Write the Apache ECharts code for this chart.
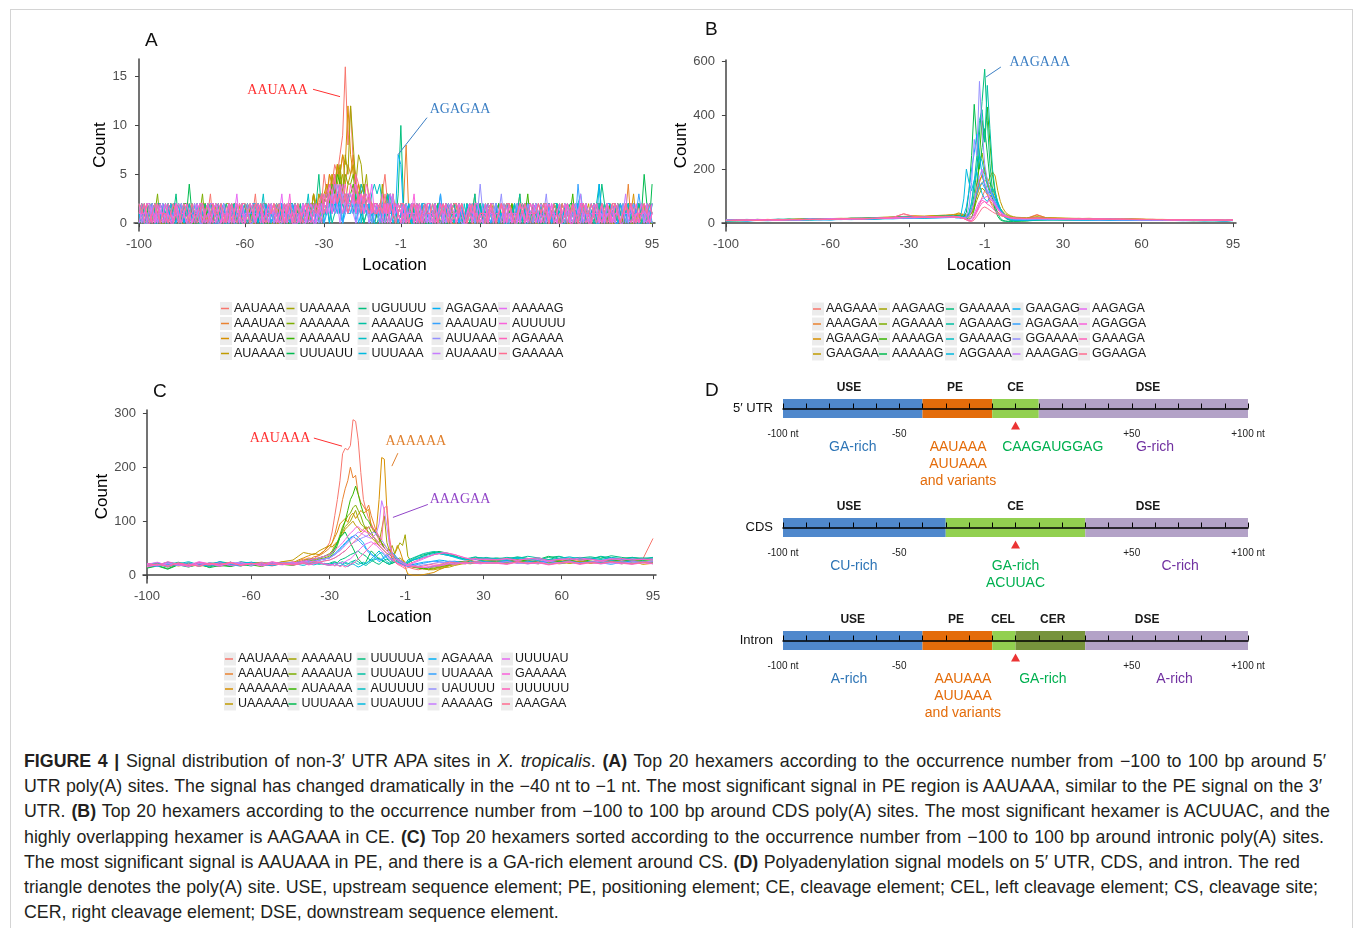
<!DOCTYPE html>
<html>
<head>
<meta charset="utf-8">
<script src="https://cdn.jsdelivr.net/npm/echarts@6/dist/echarts.min.js"></script>
<style>
  html, body { margin: 0; padding: 0; background: #fff; }
  #wrap { position: relative; width: 1355px; height: 928px; overflow: hidden; }
  #chart { position: absolute; left: 0; top: 0; width: 1355px; height: 740px; }
  #frame { position: absolute; left: 10px; top: 9px; width: 1341px; height: 940px; border: 1px solid #d4d4d4; }
  #caption { position: absolute; left: 24px; top: 749px; font-family: 'Liberation Sans', Arial, sans-serif;
    font-size: 17.8px; line-height: 25.2px; color: #231f20; white-space: nowrap; }
  #caption div { text-align: left; text-align-last: justify; }
  #caption div.last { text-align-last: left; }
</style>
</head>
<body>
<div id="wrap">
  <div id="frame"></div>
  <div id="chart"></div>
  <div id="caption">
    <div style="width:1302px"><b>FIGURE 4 |</b> Signal distribution of non-3′ UTR APA sites in <i>X. tropicalis</i>. <b>(A)</b> Top 20 hexamers according to the occurrence number from −100 to 100 bp around 5′</div>
    <div style="width:1298px">UTR poly(A) sites. The signal has changed dramatically in the −40 nt to −1 nt. The most significant signal in PE region is AAUAAA, similar to the PE signal on the 3′</div>
    <div style="width:1306px">UTR. <b>(B)</b> Top 20 hexamers according to the occurrence number from −100 to 100 bp around CDS poly(A) sites. The most significant hexamer is ACUUAC, and the</div>
    <div style="width:1300px">highly overlapping hexamer is AAGAAA in CE. <b>(C)</b> Top 20 hexamers sorted according to the occurrence number from −100 to 100 bp around intronic poly(A) sites.</div>
    <div style="width:1276px">The most significant signal is AAUAAA in PE, and there is a GA-rich element around CS. <b>(D)</b> Polyadenylation signal models on 5′ UTR, CDS, and intron. The red</div>
    <div style="width:1294px">triangle denotes the poly(A) site. USE, upstream sequence element; PE, positioning element; CE, cleavage element; CEL, left cleavage element; CS, cleavage site;</div>
    <div class="last">CER, right cleavage element; DSE, downstream sequence element.</div>
  </div>
</div>
<script>
// ---- data ----
// hexamer names, legend order (column by column)
const namesA = ['AAUAAA','AAAUAA','AAAAUA','AUAAAA','UAAAAA','AAAAAA','AAAAAU','UUUAUU','UGUUUU','AAAAUG',
  'AAGAAA','UUUAAA','AGAGAA','AAAUAU','AUUAAA','AUAAAU','AAAAAG','AUUUUU','AGAAAA','GAAAAA'];
const namesB = ['AAGAAA','AAAGAA','AGAAGA','GAAGAA','AAGAAG','AGAAAA','AAAAGA','AAAAAG','GAAAAA','AGAAAG',
  'GAAAAG','AGGAAA','GAAGAG','AGAGAA','GGAAAA','AAAGAG','AAGAGA','AGAGGA','GAAAGA','GGAAGA'];
const namesC = ['AAUAAA','AAAUAA','AAAAAA','UAAAAA','AAAAAU','AAAAUA','AUAAAA','UUUAAA','UUUUUA','UUUAUU',
  'AUUUUU','UUAUUU','AGAAAA','UUAAAA','UAUUUU','AAAAAG','UUUUAU','GAAAAA','UUUUUU','AAAGAA'];

// A: counts at every location -100..-1, 1..95, one base-36 digit per location, groups of 10
const countsA = [
  '1010210121 0121012012 1201021302 0112010210 2101302101 1020121021 1021213132 53546579g8 c654342321 2135213121 1201010211 0120102101 2010120120 1021012012 0102101201 1210201020 0121010212 1020121010 2101021201 01210',
  '0210120110 1102011201 2011020112 0101202101 1210010221 0021101210 1100213122 2435465746 5734232121 1201213121 2810120101 2012101100 0120210012 1011020102 0201112010 1120010211 2100121101 0112201020 1012140210 21010',
  '1100212011 2012101100 0120210012 1011020102 0201112010 1120010211 2101213221 325436576c 7543432121 1212321012 1021012102 0101202101 1210010221 0021101210 2100121101 0112201020 1010210121 0121012012 1201021302 01121',
  '0201112010 1120010211 2100121101 0112201020 1010210121 0121012012 1201022132 3425364524 5634231212 2101312101 0210120110 1102011201 2011020112 0101202101 1210010221 0021101210 1100212011 2012101100 0120210012 10110',
  '2012101100 0120210012 1011020102 0201112010 1120010211 2100121101 0112213120 2343546375 c847635221 2141312101 1010210121 0121012012 1201021302 0112010210 2101302101 1020121021 0210120110 1102011201 2011020112 01012',
  '1201021302 0112010210 2101302101 1020121021 0210120110 1102011201 2011021212 2343425354 4523342121 1202131201 2100121101 0112201020 1010210121 0121012012 1100212011 2012101100 0120210012 1011020102 0201112010 11200',
  '0101202101 1210010221 0021101210 1100212011 2012101100 0120210012 1011021203 2324354232 3423212110 1210121012 0201112010 1120010211 2100121101 0112201020 1201021302 0112010210 2101302101 1020121021 0210120110 12011',
  '1020121021 0210120114 1102011201 2011020112 0101202101 1210010221 0021101210 1203121322 2312101210 1021312101 2012101100 0120210012 1011020102 0201112010 1120010211 2100121101 0112201020 1010210121 0121012012 15204',
  '0112010210 2101302101 1020121021 0210120110 1102011201 2011020112 1021201251 2132321213 2131212102 102012103a 2101021201 0102101201 1210201020 0121010212 1020121010 2010120120 1021012012 0120142101 1201010211 10210',
  '1210010221 0021101210 1100212011 2012101100 0120210012 1011020102 0201112010 1220132121 2121301210 0121021201 1010210121 0121012012 1201021302 0112010210 2101302101 1020121021 0210120110 1102401201 2011020112 01012',
  '2100121101 0112201020 1010210121 0121012012 1201021302 0112010210 2101302101 1232143213 2312432134 3421231201 1020121021 0210120110 1102011201 2011020112 0101202101 1210010221 0021101210 1100212011 2012101100 01202',
  '0120210012 1011020102 0201112010 1120010211 2100121101 0112201020 1010210121 0231213021 1213021201 2101320112 1210010221 0021101210 1100212011 2012101100 0120210012 1011020102 0201112310 1120010211 2100121101 10120',
  '1011020102 0201112010 1120010211 2100121101 0112201020 1010210121 0121012012 1202131021 2120132011 1201202176 1120120101 2101302101 1020121021 0210120110 1102011201 2011020112 0101202101 1210410221 0021101210 11021',
  '0201112010 1120010211 2012101100 0120210012 1011020102 0112201020 1010210121 0121312012 1302121210 2012131201 0112010210 2101302101 1020121021 0210120110 1102011201 2011020112 0101204101 1210010221 0021101213 11002',
  '1100212011 2012101100 0120210012 1011020102 0201112010 1120010211 2100121101 2132434232 3212312101 1021201210 0112201020 1010210121 0121012014 1201021302 0112010210 2101302101 1020121021 0210120110 1102011201 20110',
  '2011020112 0101202101 1210010221 0021101210 1100212011 2012101100 0120210012 1213120312 2101312021 1210213012 0201112010 1120010211 2100121101 0112201020 1010210121 0121012012 1201021302 0112010210 2101302101 10201',
  '0112201020 1010210121 0121012012 1201021302 0112010210 2101302101 1020121021 3243243423 3242323241 2102132121 2011020112 0101202101 1210010221 0021101210 1100212011 2012101100 0120210012 1011020102 0201112010 11201',
  '1120010211 2100121101 0112201020 1010210121 0121012012 1201021302 0112010210 2131323121 2313212312 1212021210 2101302101 1020121021 0210120110 1102011201 2011020112 0101202101 1210010221 0021101210 1100212011 21012',
  '1202101201 0210210121 1012012101 2101201210 0121021012 1210120101 2012101213 2343524342 4352324312 2131201210 1012021012 2101212101 0121021201 1202101210 2101210121 1210121012 0121201210 1012101201 2101210120 12101',
  '2121012101 1012101210 2101210121 1210121012 2101212101 1212101210 2101212123 1232323231 2323132121 1213121012 2101210121 1210121012 2121012101 1012101212 2101212101 1212101210 2101210121 1210121012 2101212101 12121'
];

// B: counts read at these locations
const locsB = [-100,-96,-92,-88,-84,-80,-76,-72,-68,-64,-60,-56,-52,-48,-44,-40,-36,-32,-28,-24,-20,-16,
  -14,-13,-12,-11,-10,-9,-8,-7,-6,-5,-4,-3,-2,-1, 1,2,3,4,5,6,7,8,9,10,11,12, 14,16,
  20,24,28,32,36,40,44,48,52,56,60,64,68,72,76,80,84,88,92,95];
const countsB = [
  [9,11,10,12,13,11,14,13,15,14,16,15,17,16,18,19,21,35,24,22,25,27, 26,27,29,28,30,27,25,22,24,30,45,70,95,120, 105,80,62,48,38,30,26,24,22,21,20,19, 19,18, 32,18,17,16,17,15,16,14,15,13,14,13,12,13,12,11,12,11,10,11],
  [12,10,13,11,12,14,13,15,14,16,15,17,18,17,19,20,22,24,23,25,26,28, 29,28,30,31,29,27,25,28,35,60,110,150,180,140, 110,85,70,55,42,34,28,25,23,21,20,19, 18,17, 30,19,18,17,16,17,15,16,14,15,14,13,13,12,12,11,11,12,10,12],
  [11,13,10,12,14,12,13,15,16,14,17,16,18,19,20,21,23,25,27,26,28,30, 31,30,32,35,33,30,28,32,40,70,120,160,175,200, 150,120,90,70,55,42,33,28,25,22,21,20, 19,18, 22,20,19,18,17,18,16,17,15,16,15,14,14,13,13,12,12,13,11,13],
  [10,12,11,13,12,14,13,15,14,15,17,16,18,17,19,21,22,24,26,25,27,28, 30,32,34,38,35,32,30,35,50,75,100,130,150,160, 150,170,190,175,120,80,55,40,32,27,24,22, 21,19, 21,19,18,17,18,16,17,16,15,15,14,14,13,13,12,12,11,12,11,12],
  [13,11,12,14,13,12,15,14,16,15,17,18,17,19,20,22,21,23,25,24,26,27, 28,29,27,30,28,26,24,27,36,55,85,110,130,120, 140,150,130,100,75,55,42,33,28,24,22,21, 20,19, 24,19,18,18,17,16,16,15,15,14,14,13,13,12,12,12,11,11,10,11],
  [8,10,9,11,12,11,13,12,14,13,15,14,16,17,16,18,19,21,22,21,23,24, 25,26,24,27,25,23,20,24,40,80,150,210,260,200, 160,120,95,75,55,40,30,24,20,17,16,15, 15,14, 16,15,15,14,14,13,14,13,12,13,12,12,11,12,11,10,11,10,9,10],
  [9,8,10,11,10,12,11,13,12,14,13,15,14,16,15,17,18,19,20,19,21,22, 22,23,21,24,22,20,18,15,20,50,120,250,380,300, 430,300,180,110,70,45,30,20,14,10,9,8, 8,9, 12,13,13,12,12,13,12,11,12,11,11,10,11,10,10,9,10,9,9,10],
  [11,12,10,12,13,12,14,13,14,15,14,16,17,16,18,19,20,21,23,22,24,25, 26,25,27,28,26,24,40,120,250,440,300,200,280,350, 260,160,90,50,25,12,8,7,6,6,7,7, 8,8, 11,12,12,12,13,12,12,11,12,11,11,11,10,10,10,10,9,10,9,10],
  [12,13,11,14,12,13,15,14,16,15,16,17,18,17,19,20,21,22,24,23,25,26, 27,26,25,27,24,22,20,25,50,110,200,330,450,570, 380,220,120,65,35,18,10,8,7,7,8,8, 9,10, 13,14,13,13,14,13,12,13,12,12,11,12,11,11,10,11,10,10,9,11],
  [10,11,12,10,13,11,12,14,13,15,14,16,15,17,18,17,19,20,21,22,21,23, 24,23,25,24,22,20,22,35,70,150,250,380,420,300, 510,350,200,120,75,45,28,18,13,11,10,10, 11,11, 13,13,14,13,12,13,12,12,11,12,11,11,10,11,10,10,9,10,9,10],
  [13,12,14,12,13,15,14,13,16,15,17,16,18,19,18,20,22,23,22,24,25,26, 26,27,25,26,24,22,25,40,80,150,200,250,230,180, 140,110,130,110,80,55,38,28,22,19,18,17, 17,16, 17,16,16,15,16,15,14,15,14,14,13,13,13,12,12,12,11,12,11,12],
  [7,9,8,10,9,11,10,12,11,13,12,14,13,15,14,16,17,18,19,18,20,21, 21,22,20,19,35,90,200,150,120,160,190,140,110,90, 80,95,110,90,65,45,30,20,15,12,11,10, 10,11, 12,12,13,12,12,11,12,11,11,10,11,10,10,10,9,10,9,9,8,9],
  [9,10,8,11,10,12,11,12,13,12,14,13,15,14,16,17,16,18,19,20,19,21, 22,21,23,20,18,30,60,120,200,260,330,250,180,140, 120,100,110,90,70,50,35,25,18,15,13,12, 12,12, 13,13,12,13,12,12,11,12,11,11,10,11,10,10,10,9,10,9,9,10],
  [11,9,12,10,11,13,12,11,14,13,12,15,14,16,15,17,18,17,19,20,21,20, 21,22,20,21,19,18,22,30,50,80,110,140,150,130, 110,120,100,80,60,45,33,25,20,17,15,14, 14,13, 14,13,14,13,12,13,12,12,11,12,11,11,10,11,10,10,9,10,9,10],
  [10,11,9,12,11,10,13,12,14,13,15,14,16,15,17,18,17,19,20,21,20,22, 22,21,23,22,20,18,25,60,150,310,250,525,350,220, 160,130,100,75,55,40,30,24,20,17,16,15, 15,14, 15,14,14,13,14,13,12,13,12,12,11,12,11,11,10,10,11,10,9,10],
  [12,10,11,13,12,14,12,13,15,14,16,15,17,16,18,19,20,21,20,22,23,24, 24,25,23,24,22,20,19,25,45,80,130,170,200,150, 120,100,85,70,55,42,32,26,22,19,18,17, 16,16, 17,16,15,16,15,14,15,14,14,13,13,12,13,12,11,12,11,11,10,11],
  [10,12,11,12,13,12,14,13,15,14,16,15,17,18,17,19,20,22,21,23,24,25, 25,26,24,23,21,19,15,12,18,35,60,80,90,95, 100,95,85,70,55,42,34,28,24,21,19,18, 17,17, 18,17,17,16,16,15,15,15,14,14,13,14,13,12,12,12,11,12,11,12],
  [11,10,12,11,13,12,13,14,13,15,14,16,15,17,18,17,19,21,22,21,23,24, 24,23,22,21,19,17,12,8,10,25,50,70,85,80, 75,90,80,65,50,40,33,27,23,20,19,18, 18,17, 19,18,17,17,16,16,15,15,15,14,14,13,13,13,12,12,12,11,11,12],
  [9,11,10,11,12,11,13,12,14,13,14,15,16,15,17,18,19,20,22,21,22,23, 23,22,24,22,20,18,14,10,8,20,40,60,75,80, 70,65,55,45,38,32,28,25,22,20,19,18, 18,18, 18,17,17,16,16,15,16,15,14,14,14,13,13,12,13,12,11,12,11,11],
  [10,11,12,10,12,13,12,14,13,15,14,16,17,16,18,20,22,34,25,23,24,25, 25,24,23,22,20,17,12,8,6,12,25,40,55,60, 55,48,42,36,32,28,25,23,21,20,19,18, 18,17, 18,17,17,16,16,15,15,14,15,14,13,14,13,12,12,12,11,12,11,12]
];

// C: counts read at these locations
const locsC = [-100,-96,-92,-88,-84,-80,-76,-72,-68,-64,-60,-56,-52,-48,-44, -42,-40,-38,-36,-34,-32,
  -30,-29,-28,-27,-26,-25,-24,-23,-22,-21,-20,-19,-18,-17,-16,-15,-14,-13,-12,-11,-10,-9,-8,-7,-6,-5,-4,-3,-2,-1,
  1,3,5,7,9,11,13,15,17,19,21,23,25,27,29,31, 35,39,43,47,51,55,59,63,67,71,75,79,83,87,91, 95];
const countsC = [
  [18,22,15,20,17,24,19,16,21,18,23,20,17,22,25, 24,28,32,30,38,45, 60,80,110,140,175,225,235,232,240,288,285,250,190,140,120,105,95,85,75,65,58,50,45,40,35,30,28,25,22,20, 15,12,10,12,14,15,18,20,22,24,25,26,28,25,27,26, 28,25,30,27,24,29,26,28,25,30,27,24,28,26,29, 68],
  [20,17,23,19,22,16,21,24,18,20,23,19,22,24,21, 26,30,28,34,36,42, 50,60,75,95,115,140,160,175,200,180,185,150,135,128,120,130,110,95,80,70,60,55,50,45,40,35,30,28,25,22, 18,15,14,13,15,17,16,18,20,21,22,24,23,22,24,25, 24,27,22,25,28,23,26,24,27,22,25,28,24,26,23, 25],
  [15,19,22,17,20,23,18,21,16,24,20,22,19,25,23, 28,32,36,40,38,45, 55,60,70,80,95,100,105,98,110,115,105,112,120,115,118,122,90,80,85,140,218,215,120,60,25,40,55,45,30,15, 2,0,0,1,3,5,10,14,18,20,22,24,22,25,23,24, 22,26,24,28,23,25,27,22,26,24,28,23,25,27,20, 22],
  [17,20,16,22,19,21,18,23,20,17,22,24,21,25,28, 35,42,40,38,45,50, 55,52,58,62,70,75,85,90,95,100,92,88,80,85,90,75,70,65,60,55,58,50,45,48,40,35,30,32,28,25, 20,18,15,12,10,10,12,14,15,18,20,22,21,23,22,24, 23,21,25,22,26,24,21,23,25,22,24,26,23,21,24, 22],
  [19,16,21,18,23,20,17,22,19,24,21,18,23,20,22, 24,26,30,28,32,35, 40,45,55,60,70,80,90,95,100,110,120,105,95,90,85,80,75,70,65,60,85,110,60,45,55,40,50,60,55,75, 35,20,15,12,10,12,14,16,18,20,22,21,23,24,22,25, 24,22,26,23,21,25,27,22,24,26,23,25,21,24,26, 24],
  [16,21,18,23,17,20,22,19,24,18,21,23,20,22,19, 22,25,28,26,30,32, 35,42,50,60,75,90,100,110,115,125,130,120,110,95,85,90,80,70,62,55,50,45,40,38,35,32,30,28,25,22, 20,16,14,12,12,13,15,17,19,21,22,24,23,25,24,26, 25,23,27,24,22,26,24,28,23,25,27,24,22,26,25, 23],
  [14,18,12,20,16,19,15,22,17,21,19,16,22,20,18, 21,24,22,26,28,30, 32,38,45,55,70,85,100,120,140,150,165,150,130,115,105,100,90,85,75,70,60,50,45,40,35,30,28,25,22,20, 18,15,13,12,14,16,18,20,21,23,25,24,26,25,27,26, 27,25,29,26,24,28,25,27,30,26,24,28,26,29,27, 26],
  [13,17,11,19,15,21,14,18,16,20,17,22,19,21,23, 24,26,28,30,32,35, 38,42,50,60,70,75,80,70,60,50,40,30,25,20,25,35,45,40,35,30,28,25,22,20,22,24,25,22,20,18, 22,28,32,36,40,42,44,42,40,36,32,30,28,30,32,30, 30,28,33,31,29,35,30,28,32,30,34,29,31,33,30, 32],
  [21,18,24,20,17,23,19,25,22,18,24,21,23,20,22, 23,21,25,22,24,20, 22,24,25,23,28,30,32,35,38,40,42,45,40,38,35,30,28,25,22,20,24,28,30,26,22,25,28,24,20,18, 25,30,35,38,40,42,40,38,36,34,32,30,31,33,32,30, 32,30,34,31,29,33,35,30,32,34,31,36,33,30,32, 30],
  [18,22,19,24,20,17,23,21,19,25,22,20,24,21,23, 22,24,21,23,20,22, 20,22,24,21,23,25,22,20,24,26,28,25,22,20,18,22,25,28,30,32,28,25,22,20,24,28,30,25,22,20, 28,32,36,40,42,44,42,40,38,35,32,30,32,34,31,33, 30,33,31,35,32,29,34,31,33,30,35,32,29,33,31, 33],
  [20,23,18,21,25,19,22,17,24,20,23,21,18,22,20, 21,23,20,22,24,21, 20,22,18,21,23,20,24,22,20,25,23,20,22,24,21,26,30,35,40,45,38,30,25,22,28,32,28,24,22,20, 24,28,32,35,38,40,42,40,37,34,32,30,31,30,32,31, 31,29,33,30,32,28,31,34,30,32,29,33,31,30,28, 30],
  [22,19,24,21,18,23,20,25,19,22,24,18,21,23,20, 20,18,21,19,22,20, 18,20,22,19,17,20,18,16,19,21,18,15,17,20,22,25,28,30,35,40,42,38,32,28,30,35,32,28,24,20, 25,28,30,33,35,38,40,38,36,33,30,28,30,29,28,30, 29,27,31,28,30,26,29,32,28,30,27,31,29,28,30, 28],
  [17,20,15,22,18,21,16,23,19,17,22,20,18,21,23, 24,22,26,25,28,30, 32,35,38,42,48,52,58,62,68,72,75,70,65,60,50,45,40,35,30,25,28,32,35,40,42,38,30,25,22,20, 18,20,22,24,25,26,28,27,25,26,24,23,25,24,26,25, 24,26,23,25,27,22,24,26,23,25,22,27,24,26,23, 25],
  [19,16,21,18,23,17,20,22,18,21,19,23,20,22,21, 22,24,23,26,28,30, 32,36,40,45,50,55,60,65,70,72,68,65,60,55,48,42,38,35,32,28,30,35,38,32,28,25,24,22,20,18, 16,18,20,22,24,26,25,24,26,25,23,24,22,24,25,23, 22,25,23,21,24,26,22,24,21,25,23,20,24,22,25, 21],
  [21,17,23,19,16,22,20,18,24,21,19,23,20,22,24, 22,25,23,26,24,27, 28,30,32,35,38,42,45,50,55,60,62,65,68,70,72,75,78,80,76,72,65,58,50,42,35,30,28,25,22,20, 18,16,17,19,20,22,24,23,25,24,22,24,23,25,24,22, 23,21,25,22,24,20,23,25,22,24,21,23,25,22,24, 22],
  [16,19,22,18,20,17,23,19,21,24,18,22,20,23,21, 22,24,26,25,28,30, 32,35,38,42,45,50,55,60,65,70,75,80,78,75,72,70,68,72,78,95,138,120,90,55,40,35,30,28,25,22, 20,18,16,15,14,16,18,20,22,21,23,22,24,23,22,24, 23,25,22,24,21,26,23,25,22,24,26,23,21,25,24, 26],
  [20,24,18,22,19,25,21,17,23,20,22,18,24,21,19, 21,23,20,22,24,21, 20,18,22,20,24,22,25,28,30,35,40,45,50,55,58,60,62,58,55,50,45,40,35,30,28,25,22,20,18,16, 18,22,26,30,34,38,40,42,40,38,35,32,30,28,30,29, 28,30,27,31,29,26,30,28,32,29,27,31,28,30,29, 30],
  [15,20,17,22,16,21,19,23,18,20,22,17,21,19,23, 24,26,28,30,32,35, 38,42,46,50,55,60,66,72,78,82,88,90,85,82,80,78,75,70,65,60,55,50,45,40,35,30,28,25,22,20, 18,16,15,14,16,18,17,19,21,20,22,21,23,22,21,23, 22,20,24,21,23,19,22,24,20,23,21,24,22,20,23, 21],
  [22,18,25,20,17,24,21,19,23,18,22,20,25,21,19, 20,22,19,21,23,20, 18,20,17,19,16,18,15,17,20,22,25,30,35,40,45,50,55,60,58,55,50,45,40,35,30,25,22,20,18,16, 20,24,28,32,35,38,40,41,40,38,35,32,30,31,29,30, 29,31,28,30,32,27,29,31,28,30,26,29,31,28,30, 28],
  [18,21,16,23,19,17,22,20,24,18,21,23,19,22,20, 21,23,22,25,24,26, 28,30,32,35,38,42,45,50,55,60,65,70,75,80,85,88,90,86,80,72,65,125,128,70,40,25,20,18,15,12, 14,16,15,17,19,21,20,22,24,23,22,24,23,25,24,22, 23,21,25,22,24,20,23,25,21,24,22,25,23,21,24, 22]
];

// D: signal model segments (start nt, end nt, element) and notes below the bars
const modelRows = ['5′ UTR', 'CDS', 'Intron'];
const modelSegs = [
  [[-100, -40, 'USE'], [-40, -10, 'PE'], [-10, 10, 'CE'], [10, 100, 'DSE']],
  [[-100, -30, 'USE'], [-30, 30, 'CE'], [30, 100, 'DSE']],
  [[-100, -40, 'USE'], [-40, -10, 'PE'], [-10, 0, 'CEL'], [0, 30, 'CER'], [30, 100, 'DSE']]
];
// where each element name sits above the bar (nt)
const modelSegLabelAt = [[-71.6, -26, 0, 57], [-71.6, 0, 57], [-70, -25.6, -5.4, 16, 56.6]];
const modelNotes = [
  [['GA-rich', -70, 'USE'], ['AAUAAA\nAUUAAA\nand variants', -24.7, 'PE'], ['CAAGAUGGAG', 16, 'CE'], ['G-rich', 60, 'DSE']],
  [['CU-rich', -69.5, 'USE'], ['GA-rich\nACUUAC', 0, 'CE'], ['C-rich', 70.8, 'DSE']],
  [['A-rich', -71.6, 'USE'], ['AAUAAA\nAUUAAA\nand variants', -22.6, 'PE'], ['GA-rich', 11.8, 'CE'], ['A-rich', 68.4, 'DSE']]
];
const cleavageSite = 0;

// ---- styles ----
const palette = ['#F8766D','#EA8331','#D89000','#C09B00','#A3A500','#7CAE00','#39B600','#00BB4E','#00BF7D','#00C1A3',
  '#00BFC4','#00BAE0','#00B0F6','#35A2FF','#9590FF','#C77CFF','#E76BF3','#FA62DB','#FF62BC','#FF6C91'];
const segFill = { USE: '#4f88cc', PE: '#e46c0a', CE: '#92d050', CEL: '#92d050', CER: '#77933c', DSE: '#b3a2c7' };
const noteColor = { USE: '#2e75b6', PE: '#e46c0a', CE: '#00b050', DSE: '#7030a0' };
const FONT = "'Liberation Sans', Arial, sans-serif";

// location (no zero) -> position on the axis
const locToIdx = l => (l < 0 ? l + 100 : l + 99);
const idxToLoc = i => (i < 100 ? i - 100 : i - 99);
const xLabelIdx = [-100, -60, -30, -1, 30, 60, 95].map(locToIdx);

const panels = [
  { key: 'A', names: namesA, grid: { left: 134, top: 59, width: 521, height: 172 }, xMin: -1.9, xMax: 195.1,
    yMin: -0.8, yMax: 16.8, yTicks: [0, 5, 10, 15], countGap: 23.5, legendX: [234, 299.5, 371.5, 445.5, 512], legendTop: 301,
    data: countsA.map(s => s.replace(/ /g, '').split('').map((c, i) => [i, parseInt(c, 36)])) },
  { key: 'B', names: namesB, grid: { left: 722, top: 60, width: 514, height: 171 }, xMin: -1.5, xMax: 195.15,
    yMin: -29, yMax: 604, yTicks: [0, 200, 400, 600], countGap: 32.5, legendX: [826, 892, 959, 1025.5, 1092], legendTop: 301.5,
    data: countsB.map(v => v.map((y, i) => [locToIdx(locsB[i]), y])) },
  { key: 'C', names: namesC, grid: { left: 143, top: 410, width: 513, height: 173 }, xMin: -1.5, xMax: 195.15,
    yMin: -14.5, yMax: 306, yTicks: [0, 100, 200, 300], countGap: 32.5, legendX: [238, 301.5, 370.5, 441.5, 515], legendTop: 651.5,
    data: countsC.map(v => v.map((y, i) => [locToIdx(locsC[i]), y])) }
];

const annotations = [
  { grid: 0, text: 'AAUAAA', color: '#ff3030', at: [-47.6, 13.6], from: [-34.2, 13.7], to: [-24, 12.95] },
  { grid: 0, text: 'AGAGAA', color: '#3c7fc4', at: [22.4, 11.7], from: [9.9, 10.8], to: [-2.1, 7] },
  { grid: 1, text: 'AAGAAA', color: '#3c7fc4', at: [21.1, 596], from: [6.2, 578], to: [0.5, 541] },
  { grid: 2, text: 'AAUAAA', color: '#ff3030', at: [-49, 254], from: [-36, 254], to: [-25.2, 239] },
  { grid: 2, text: 'AAAAAA', color: '#e0812f', at: [4.1, 248.5], from: [-3.8, 226], to: [-6.1, 202] },
  { grid: 2, text: 'AAAGAA', color: '#9145c8', at: [21, 140], from: [8.7, 131], to: [-5.7, 107] }
];

// ---- build option ----
const grids = [], xAxes = [], yAxes = [], series = [], legends = [];

panels.forEach((p, pi) => {
  grids.push(p.grid);
  xAxes.push({
    type: 'value', gridIndex: pi, min: p.xMin, max: p.xMax,
    name: 'Location', nameLocation: 'middle', nameGap: 25.5,
    nameTextStyle: { fontSize: 17, color: '#000', fontFamily: FONT },
    axisLine: { lineStyle: { color: '#444', width: 1.5 } },
    axisTick: { show: true, length: 4, customValues: xLabelIdx, lineStyle: { color: '#444' } },
    axisLabel: { customValues: xLabelIdx, formatter: v => String(idxToLoc(Math.round(v))), fontSize: 13, color: '#4d4d4d', margin: 7, fontFamily: FONT },
    splitLine: { show: false }
  });
  yAxes.push({
    type: 'value', gridIndex: pi, min: p.yMin, max: p.yMax,
    name: 'Count', nameLocation: 'middle', nameGap: p.countGap,
    nameTextStyle: { fontSize: 17, color: '#000', fontFamily: FONT },
    axisLine: { show: true, lineStyle: { color: '#444', width: 1.5 } },
    axisTick: { show: true, length: 4, customValues: p.yTicks, lineStyle: { color: '#444' } },
    axisLabel: { customValues: p.yTicks, fontSize: 13, color: '#4d4d4d', margin: 7, fontFamily: FONT },
    splitLine: { show: false }
  });
  p.names.forEach((n, si) => {
    series.push({
      type: 'line', name: p.key + ':' + n, xAxisIndex: pi, yAxisIndex: pi,
      data: p.data[si], showSymbol: false, symbol: 'none', color: palette[si],
      lineStyle: { width: 1, color: palette[si] }, emphasis: { disabled: true }, silent: true
    });
  });
  // legend: 5 columns of 4, light grey key boxes behind a coloured dash
  for (let c = 0; c < 5; c++) {
    const names = p.names.slice(c * 4, c * 4 + 4).map(n => p.key + ':' + n);
    const common = { orient: 'vertical', top: p.legendTop, padding: 0, itemGap: 0, selectedMode: false, data: names,
      formatter: n => n.slice(2) };
    legends.push(Object.assign({}, common, {
      left: p.legendX[c] - 14, icon: 'rect', itemWidth: 12, itemHeight: 13, z: 3,
      itemStyle: { color: '#ececec', borderWidth: 0 }, lineStyle: { width: 0 },
      textStyle: { fontSize: 12.5, lineHeight: 15, color: 'rgba(0,0,0,0)', fontFamily: FONT }
    }));
    legends.push(Object.assign({}, common, {
      left: p.legendX[c] - 13, icon: 'rect', itemWidth: 8, itemHeight: 1.5, z: 5,
      textStyle: { fontSize: 12.5, lineHeight: 15, color: '#1a1a1a', fontFamily: FONT }
    }));
  }
});

// panel D: three model rows
const dTops = [399, 518, 631];
modelRows.forEach((row, ri) => {
  const gi = grids.length;
  grids.push({ left: 783, top: dTops[ri], width: 465, height: 19 });
  xAxes.push({
    type: 'value', gridIndex: gi, min: -100, max: 100, interval: 10, z: 10,
    axisLine: { onZero: true, lineStyle: { color: '#000', width: 1.5 } },
    axisTick: { inside: true, length: 5, lineStyle: { color: '#000', width: 1 } },
    axisLabel: { fontSize: 10, color: '#222', margin: 11, fontFamily: FONT, showMinLabel: true, showMaxLabel: true,
      formatter: v => (v === -100 ? '-100 nt' : v === -50 ? '-50' : v === 50 ? '+50' : v === 100 ? '+100 nt' : '') },
    splitLine: { show: false }
  });
  yAxes.push({
    type: 'value', gridIndex: gi, min: -1, max: 1, name: row, nameLocation: 'middle', nameRotate: 0, nameGap: 10,
    nameTextStyle: { fontSize: 13, color: '#111', fontFamily: FONT, align: 'right' },
    axisLine: { show: false }, axisTick: { show: false }, axisLabel: { show: false }, splitLine: { show: false }
  });
  const segs = modelSegs[ri];
  series.push({
    type: 'custom', xAxisIndex: gi, yAxisIndex: gi, silent: true,
    data: segs.map(s => [s[0], s[1], 0]), encode: { x: [0, 1], y: 2 },
    renderItem: (params, api) => {
      const s = segs[params.dataIndex];
      const a = api.coord([api.value(0), 1]), b = api.coord([api.value(1), -1]);
      const t = api.coord([modelSegLabelAt[ri][params.dataIndex], 1]);
      return { type: 'group', children: [
        { type: 'rect', shape: { x: a[0], y: a[1], width: b[0] - a[0], height: b[1] - a[1] }, style: { fill: segFill[s[2]] } },
        { type: 'text', x: t[0], y: a[1] - 11, style: { text: s[2], fill: '#1a1a1a', font: 'bold 12px ' + FONT, align: 'center', verticalAlign: 'middle' } }
      ] };
    }
  });
  const notes = modelNotes[ri];
  series.push({
    type: 'custom', xAxisIndex: gi, yAxisIndex: gi, silent: true,
    data: notes.map(n => [n[1], -1]),
    renderItem: (params, api) => {
      const n = notes[params.dataIndex];
      const p = api.coord([api.value(0), -1]);
      return { type: 'text', x: p[0], y: p[1] + 20.5,
        style: { text: n[0], fill: noteColor[n[2]], font: '14px ' + FONT, align: 'center', verticalAlign: 'top', lineHeight: 17 } };
    }
  });
  series.push({
    type: 'scatter', xAxisIndex: gi, yAxisIndex: gi, silent: true, clip: false,
    data: [[cleavageSite, -1]], symbol: 'triangle', symbolSize: [9, 8], symbolOffset: [0, 7.5],
    itemStyle: { color: '#e60000' }
  });
});

const titleStyle = { fontSize: 19, fontWeight: 'normal', color: '#111', fontFamily: FONT };
const option = {
  animation: false,
  backgroundColor: 'transparent',
  title: [
    { text: 'A', left: 145, top: 31, padding: 0, textStyle: titleStyle },
    { text: 'B', left: 705, top: 20, padding: 0, textStyle: titleStyle },
    { text: 'C', left: 153, top: 382, padding: 0, textStyle: titleStyle },
    { text: 'D', left: 705, top: 381, padding: 0, textStyle: titleStyle }
  ],
  grid: grids, xAxis: xAxes, yAxis: yAxes, legend: legends, series: series
};

const chart = echarts.init(document.getElementById('chart'), null, { renderer: 'canvas' });
chart.setOption(option);

// annotations placed through the panel scales
const graphic = [];
annotations.forEach(a => {
  const pt = v => chart.convertToPixel({ gridIndex: a.grid }, [locToIdx(v[0]), v[1]]);
  const at = pt(a.at), f = pt(a.from), t = pt(a.to);
  graphic.push({ type: 'text', x: at[0], y: at[1], z: 20,
    style: { text: a.text, fill: a.color, font: "14px 'Liberation Serif', 'DejaVu Serif', serif", align: 'center', verticalAlign: 'middle' } });
  graphic.push({ type: 'line', z: 20, shape: { x1: f[0], y1: f[1], x2: t[0], y2: t[1] }, style: { stroke: a.color, lineWidth: 1 } });
});
chart.setOption({ graphic: graphic });
</script>
</body>
</html>
